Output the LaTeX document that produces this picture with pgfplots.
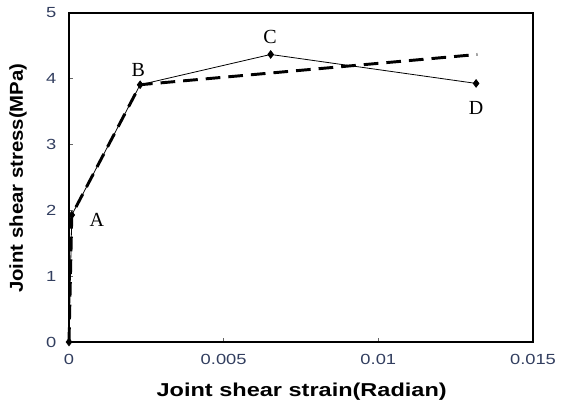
\documentclass[border=0pt]{standalone}
\usepackage{graphicx}
\usepackage{pgfplots}
\pgfplotsset{compat=1.18}
\usepackage{fontspec}
\setmainfont{Liberation Sans}
\newfontfamily\serifA{Liberation Serif}
\definecolor{tickc}{RGB}{50,62,95}
\newcommand{\tl}[1]{\scalebox{1.25}[1]{#1}}
\begin{document}
\begin{tikzpicture}
\useasboundingbox (0,0) rectangle (421.5pt,303.75pt);
\begin{axis}[
  at={(51.75pt,47.25pt)}, anchor=origin,
  scale only axis, width=348pt, height=246.75pt,
  xmin=0, xmax=0.015, ymin=0, ymax=5,
  xtick={0,0.005,0.01,0.015}, ytick={0,1,2,3,4,5},
  scaled x ticks=false,
  xticklabels={\tl{0},\tl{0.005},\tl{0.01},\tl{0.015}},
  yticklabels={\tl{0},\tl{1},\tl{2},\tl{3},\tl{4},\tl{5}},
  tick align=inside, major tick length=3pt,
  xtick pos=bottom, ytick pos=left,
  tick style={black!60, line width=0.5pt},
  axis line style={black, line width=0.9pt},
  /pgf/number format/assume math mode=true,
  ticklabel style={font=\fontsize{11}{12}\selectfont, text=tickc},
  xticklabel style={yshift=-6pt},
  yticklabel style={xshift=-6pt},
  xlabel={\scalebox{1.26}[1]{\textbf{Joint shear strain(Radian)}}},
  ylabel={\scalebox{1.09}[1]{\textbf{Joint shear stress(MPa)}}},
  label style={font=\fontsize{14}{16}\selectfont},
  xlabel style={at={(axis description cs:0.5015,-0.152)}, anchor=center},
  ylabel style={at={(axis description cs:-0.11,0.498)}, anchor=center},
  clip=false,
]
\addplot[black, line width=0.6pt, mark=diamond*, mark size=2.8pt]
  coordinates {(0,0) (0.00009,1.93) (0.0023,3.91) (0.00652,4.37) (0.01316,3.93)};
\addplot[black, line width=2.2pt, dash pattern=on 11pt off 6pt]
  coordinates {(0,0) (0.00009,1.93) (0.0023,3.91) (0.0132,4.37)};
\node[font=\serifA\fontsize{15}{16}\selectfont] at (axis cs:0.0009,1.85) {A};
\node[font=\serifA\fontsize{15}{16}\selectfont] at (axis cs:0.00224,4.13) {B};
\node[font=\serifA\fontsize{15}{16}\selectfont] at (axis cs:0.0065,4.63) {C};
\node[font=\serifA\fontsize{15}{16}\selectfont] at (axis cs:0.01316,3.56) {D};
\end{axis}
\end{tikzpicture}
\end{document}
